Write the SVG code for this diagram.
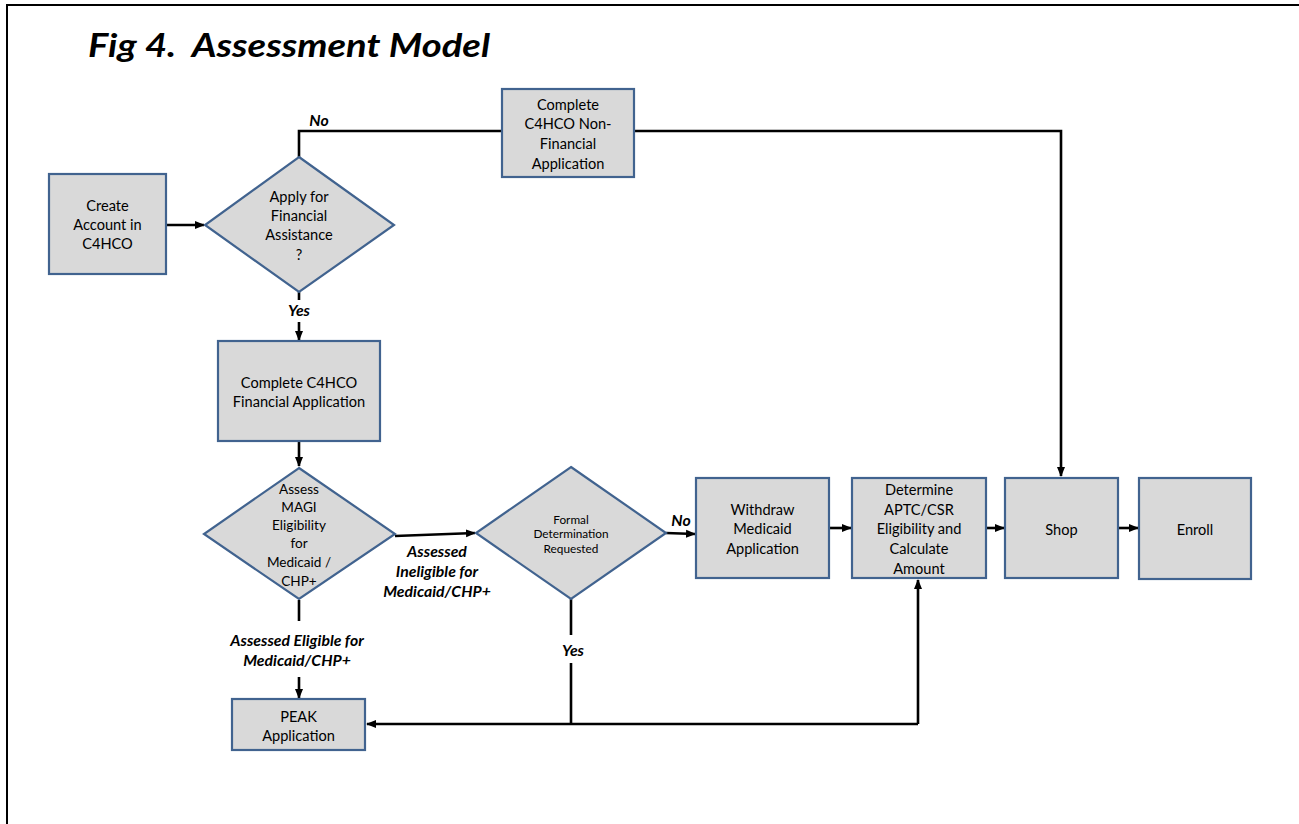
<svg xmlns="http://www.w3.org/2000/svg" width="1299" height="824" viewBox="0 0 1299 824">
<style>
.box{fill:#d9d9d9;stroke:#41638f;stroke-width:2.2}
.t{font-family:Lato,"Open Sans",sans-serif;font-size:14.6px;fill:#000;text-anchor:middle}
.s{font-size:13.6px}
.xs{font-size:11.8px}
.lb{font-family:Lato,"Open Sans",sans-serif;font-size:15.8px;font-weight:bold;font-style:italic;fill:#000;text-anchor:middle}
.c{fill:none;stroke:#000;stroke-width:2.6}
</style>
<defs>
<marker id="ah" markerUnits="userSpaceOnUse" markerWidth="10" markerHeight="10" viewBox="0 0 10 10" refX="9" refY="5" orient="auto">
<path d="M0,1 L10,5 L0,9 Z" fill="#000"/>
</marker>
</defs>
<rect width="1299" height="824" fill="#fff"/>
<path d="M7,830 V5 H1305" fill="none" stroke="#000" stroke-width="2"/>
<text x="88" y="57" xml:space="preserve" style="white-space:pre" font-family="Lato,'Open Sans',sans-serif" font-size="33" font-weight="bold" font-style="italic" textLength="402" lengthAdjust="spacingAndGlyphs">Fig 4.  Assessment Model</text>

<g id="connectors">
<path class="c" d="M166,225 H204" marker-end="url(#ah)"/>
<path class="c" d="M299,157 V131 H502"/>
<path class="c" d="M634,131 H1061 V476" marker-end="url(#ah)"/>
<path class="c" d="M299,292 V300"/>
<path class="c" d="M299,322 V340" marker-end="url(#ah)"/>
<path class="c" d="M299,441 V466" marker-end="url(#ah)"/>
<path class="c" d="M395,536 L475,533" marker-end="url(#ah)"/>
<path class="c" d="M666,533 L695,534" marker-end="url(#ah)"/>
<path class="c" d="M571,599 V635"/>
<path class="c" d="M571,663 V724"/>
<path class="c" d="M918,724 H367" marker-end="url(#ah)"/>
<path class="c" d="M918,724 V580" marker-end="url(#ah)"/>
<path class="c" d="M299,600 V621"/>
<path class="c" d="M299,677 V698" marker-end="url(#ah)"/>
<path class="c" d="M829,528 H851" marker-end="url(#ah)"/>
<path class="c" d="M986,528 H1004" marker-end="url(#ah)"/>
<path class="c" d="M1118,528 H1138" marker-end="url(#ah)"/>
<text class="lb" x="319" y="126">No</text>
<text class="lb" x="299" y="316">Yes</text>
<text class="lb" x="437" y="557">Assessed</text>
<text class="lb" x="437" y="577">Ineligible for</text>
<text class="lb" x="437" y="597">Medicaid/CHP+</text>
<text class="lb" x="681" y="526">No</text>
<text class="lb" x="573" y="656">Yes</text>
<text class="lb" x="297" y="646">Assessed Eligible for</text>
<text class="lb" x="297" y="666">Medicaid/CHP+</text>
</g>

<g id="create-account">
<rect class="box" x="49" y="174" width="117" height="100"/>
<text class="t" x="107.5" y="211">Create</text>
<text class="t" x="107.5" y="230">Account in</text>
<text class="t" x="107.5" y="249">C4HCO</text>
</g>

<g id="apply-financial">
<path class="box" d="M299,157 L394,225 L299,292 L205,225 Z"/>
<text class="t" x="299" y="202">Apply for</text>
<text class="t" x="299" y="221">Financial</text>
<text class="t" x="299" y="240">Assistance</text>
<text class="t" x="299" y="260">?</text>
</g>

<g id="non-financial">
<rect class="box" x="502" y="89" width="132" height="88"/>
<text class="t" x="568" y="110">Complete</text>
<text class="t" x="568" y="129">C4HCO Non-</text>
<text class="t" x="568" y="149">Financial</text>
<text class="t" x="568" y="169">Application</text>
</g>

<g id="financial-app">
<rect class="box" x="218" y="341" width="162" height="100"/>
<text class="t" x="299" y="388">Complete C4HCO</text>
<text class="t" x="299" y="407">Financial Application</text>
</g>

<g id="assess-magi">
<path class="box" d="M299,468 L395,534 L299,599 L204,534 Z"/>
<text class="t s" x="299" y="494">Assess</text>
<text class="t s" x="299" y="512">MAGI</text>
<text class="t s" x="299" y="530">Eligibility</text>
<text class="t s" x="299" y="548">for</text>
<text class="t s" x="299" y="567">Medicaid /</text>
<text class="t s" x="299" y="586">CHP+</text>
</g>

<g id="formal-determination">
<path class="box" d="M571,467 L666,533 L571,599 L476,533 Z"/>
<text class="t xs" x="571" y="524">Formal</text>
<text class="t xs" x="571" y="538">Determination</text>
<text class="t xs" x="571" y="553">Requested</text>
</g>

<g id="peak">
<rect class="box" x="232" y="699" width="133" height="51"/>
<text class="t" x="298.5" y="722">PEAK</text>
<text class="t" x="298.5" y="741">Application</text>
</g>

<g id="withdraw">
<rect class="box" x="696" y="478" width="133" height="100"/>
<text class="t" x="762.5" y="515">Withdraw</text>
<text class="t" x="762.5" y="534">Medicaid</text>
<text class="t" x="762.5" y="554">Application</text>
</g>

<g id="determine">
<rect class="box" x="852" y="478" width="134" height="100"/>
<text class="t" x="919" y="495">Determine</text>
<text class="t" x="919" y="515">APTC/CSR</text>
<text class="t" x="919" y="534">Eligibility and</text>
<text class="t" x="919" y="554">Calculate</text>
<text class="t" x="919" y="574">Amount</text>
</g>

<g id="shop">
<rect class="box" x="1005" y="478" width="113" height="100"/>
<text class="t" x="1061.5" y="535">Shop</text>
</g>

<g id="enroll">
<rect class="box" x="1139" y="478" width="112" height="101"/>
<text class="t" x="1195" y="535">Enroll</text>
</g>
</svg>
